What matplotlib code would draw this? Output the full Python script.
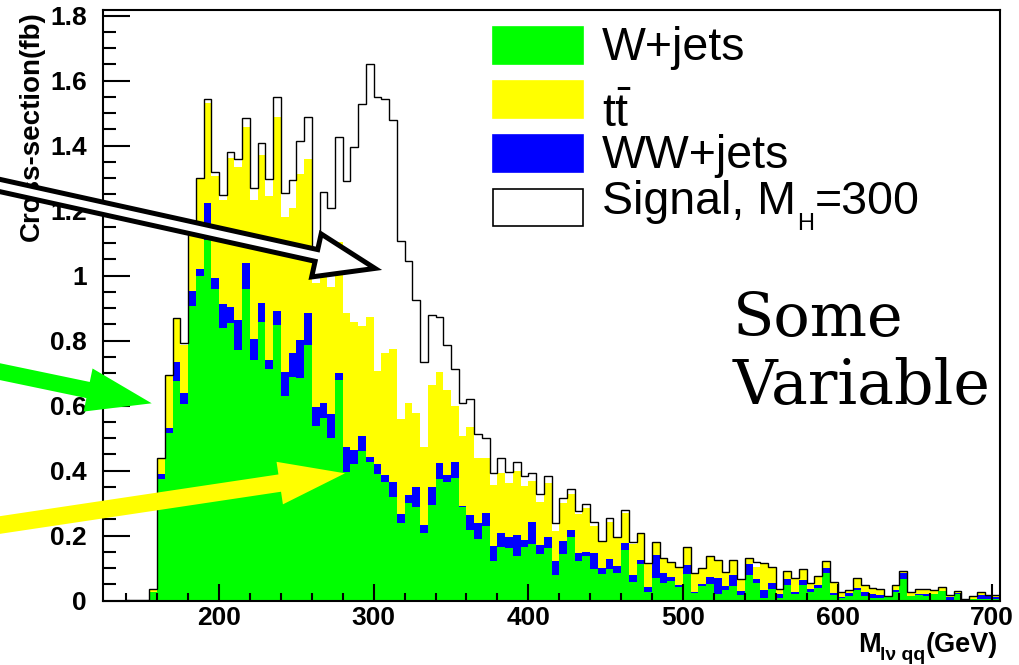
import numpy as np
import matplotlib
matplotlib.use("Agg")
import matplotlib.pyplot as plt
import matplotlib.transforms as mtransforms
from matplotlib.patches import FancyArrow, Rectangle
from matplotlib.ticker import MultipleLocator, FuncFormatter

plt.rcParams['font.family'] = ['Liberation Sans', 'DejaVu Sans']
plt.rcParams['font.weight'] = 'bold'
plt.rcParams['mathtext.fontset'] = 'custom'
plt.rcParams['mathtext.rm'] = 'Liberation Sans:weight=normal'
plt.rcParams['mathtext.it'] = 'Liberation Sans:style=italic:weight=normal'
plt.rcParams['mathtext.bf'] = 'Liberation Sans:weight=bold'

# ---------------- data (5 GeV bins starting at 125 GeV) ----------------
bin_low = 125
bin_width = 5
w_jets = [0, 0, 0, 0.003, 0.003, 0.003, 0.025,
          0.374, 0.516, 0.676, 0.605, 0.906, 1.000, 1.109, 0.958, 0.840, 0.853,
          0.771, 0.958, 0.740, 0.856, 0.712, 0.848, 0.630, 0.689, 0.686, 0.786,
          0.538, 0.561, 0.499, 0.678, 0.396, 0.420, 0.461, 0.427, 0.389, 0.364,
          0.319, 0.239, 0.301, 0.287, 0.207, 0.294, 0.374, 0.364, 0.376, 0.287,
          0.217, 0.189, 0.229, 0.123, 0.166, 0.162, 0.138, 0.166, 0.174, 0.143,
          0.161, 0.078, 0.143, 0.194, 0.123, 0.137, 0.096, 0.082, 0.096, 0.086,
          0.155, 0.056, 0.112, 0.027, 0.068, 0.053, 0.061, 0.041, 0.082, 0.022,
          0.045, 0.051, 0.020, 0.032, 0.045, 0.017, 0.078, 0.055, 0.009, 0.034,
          0.007, 0.048, 0.020, 0.048, 0.027, 0.040, 0.084, 0.017, 0.007, 0.014,
          0.032, 0.014, 0.007, 0.007, 0.014, 0.026, 0.066, 0.014, 0.018, 0.014,
          0.020, 0.030, 0.003, 0.020, 0.004, 0.004, 0.004, 0.004, 0.004]
ww_jets = [0, 0, 0, 0, 0, 0, 0,
           0.015, 0.015, 0.058, 0.033, 0.047, 0.020, 0.113, 0.033, 0.071, 0.051,
           0.092, 0.079, 0.064, 0.059, 0.028, 0.043, 0.074, 0.072, 0.116, 0.098,
           0.056, 0.046, 0.075, 0.021, 0.077, 0.043, 0.046, 0.016, 0.031, 0.022,
           0.047, 0.027, 0.024, 0.061, 0.025, 0.054, 0.048, 0.022, 0.051, 0.003,
           0.046, 0.051, 0.039, 0.045, 0.042, 0.032, 0.064, 0.020, 0.069, 0.028,
           0.033, 0.045, 0.041, 0.023, 0.022, 0.011, 0.051, 0.017, 0.031, 0.020,
           0.021, 0.022, 0.013, 0.016, 0.072, 0.033, 0.012, 0.007, 0.027, 0.005,
           0.006, 0.022, 0.050, 0.013, 0.033, 0.013, 0.034, 0.010, 0.023, 0.019,
           0.013, 0.017, 0.007, 0.015, 0.007, 0.008, 0.017, 0.005, 0.003, 0.008,
           0.007, 0.013, 0.013, 0.010, 0.000, 0.006, 0.020, 0.000, 0.002, 0.006,
           0.000, 0.000, 0.009, 0.002, 0.000, 0.000, 0.012, 0.012, 0.008]
ttbar = [0, 0, 0, 0, 0, 0, 0.010,
         0.045, 0.160, 0.134, 0.147, 0.172, 0.279, 0.308, 0.315, 0.321, 0.457,
         0.472, 0.421, 0.428, 0.456, 0.505, 0.598, 0.477, 0.446, 0.509, 0.476,
         0.383, 0.503, 0.392, 0.405, 0.411, 0.393, 0.339, 0.429, 0.287, 0.377,
         0.408, 0.291, 0.282, 0.228, 0.239, 0.315, 0.282, 0.262, 0.171, 0.216,
         0.272, 0.200, 0.169, 0.187, 0.183, 0.167, 0.196, 0.166, 0.125, 0.133,
         0.167, 0.092, 0.117, 0.111, 0.121, 0.136, 0.082, 0.082, 0.116, 0.088,
         0.094, 0.096, 0.082, 0.069, 0.036, 0.042, 0.041, 0.051, 0.055, 0.055,
         0.046, 0.062, 0.053, 0.041, 0.045, 0.035, 0.015, 0.037, 0.082, 0.048,
         0.014, 0.023, 0.040, 0.033, 0.019, 0.027, 0.018, 0.033, 0.014, 0.010,
         0.030, 0.020, 0.018, 0.017, 0.000, 0.015, 0.003, 0.012, 0.013, 0.013,
         0.012, 0.011, 0.004, 0.007, 0.000, 0.010, 0.010, 0.000, 0.004]
signal = [0, 0, 0, 0, 0, 0, 0,
          0.003, 0.004, 0.002, 0.006, 0.002, 0.002, 0.012, 0.013, 0.016, 0.020,
          0.022, 0.026, 0.036, 0.038, 0.051, 0.059, 0.072, 0.087, 0.104, 0.129,
          0.103, 0.148, 0.241, 0.321, 0.408, 0.538, 0.681, 0.779, 0.843, 0.779,
          0.703, 0.550, 0.439, 0.349, 0.262, 0.217, 0.169, 0.138, 0.114, 0.101,
          0.085, 0.072, 0.064, 0.038, 0.046, 0.035, 0.029, 0.032, 0.025, 0.024,
          0.022, 0.022, 0.015, 0.014, 0.010, 0.013, 0.012, 0.002, 0.010, 0.002,
          0.008, 0.005, 0.002, 0.002, 0.005, 0.002, 0.003, 0.003, 0.002, 0.002,
          0.002, 0.002, 0.002, 0.001, 0.002, 0.001, 0.004, 0.016, 0.002, 0.001,
          0.002, 0.002, 0.001, 0.001, 0.001, 0.001, 0.003, 0.001, 0.002, 0.001,
          0.001, 0.001, 0.001, 0.001, 0.001, 0.001, 0.002, 0.001, 0.001, 0.001,
          0.001, 0.001, 0.001, 0.001, 0.001, 0.001, 0.001, 0.001, 0.001]

legend_labels = ["W+jets", r"$\mathrm{t\bar{t}}$", "WW+jets", "Signal, M"]
colors = ["#00ff00", "#ffff00", "#0000ff", "white"]

# ---------------- figure ----------------
W, H = 1019, 665
fig = plt.figure(figsize=(W / 100, H / 100), dpi=100)
fig.patch.set_facecolor('white')
ax = fig.add_axes([103 / W, (H - 600.5) / H, (1000 - 103) / W, (600.5 - 10) / H])

edges = bin_low + bin_width * np.arange(len(w_jets) + 1)
c1 = np.array(w_jets)
c2 = c1 + np.array(ww_jets)
c3 = c2 + np.array(ttbar)
c4 = c3 + np.array(signal)

ax.stairs(c1, edges, baseline=0, fill=True, color=colors[0], lw=0, zorder=1)
ax.stairs(c2, edges, baseline=c1, fill=True, color=colors[2], lw=0, zorder=1)
ax.stairs(c3, edges, baseline=c2, fill=True, color=colors[1], lw=0, zorder=1)
ax.stairs(c4, edges, baseline=None, color='black', lw=1.0, zorder=2)

ax.set_xlim(125, 705)
ax.set_ylim(0, 1.817)

ax.xaxis.set_major_locator(MultipleLocator(100))
ax.xaxis.set_minor_locator(MultipleLocator(20))
ax.yaxis.set_major_locator(MultipleLocator(0.2))
ax.yaxis.set_minor_locator(MultipleLocator(0.05))
ax.xaxis.set_major_formatter(FuncFormatter(lambda v, p: f"{v:.0f}"))
ax.yaxis.set_major_formatter(FuncFormatter(lambda v, p: f"{round(v, 2):g}"))

ax.tick_params(which='both', direction='in', top=False, right=False, width=1.5,
               labelsize=19)
ax.tick_params(axis='x', which='major', length=12.2, pad=4)
ax.tick_params(axis='x', which='minor', length=6.1)
ax.tick_params(axis='y', which='major', length=19.4, pad=11.5)
ax.tick_params(axis='y', which='minor', length=9.7)
for s in ax.spines.values():
    s.set_linewidth(1.5)

# pixel coordinate transform (x to the right, y downward from top)
T = mtransforms.Affine2D().scale(1, -1).translate(0, H)

# y title
fig.text(32, 11, "Cross-section(fb)", rotation=90, ha='center', va='top',
         fontsize=20, fontweight='bold', transform=T)

# ---------------- legend ----------------
box_tops = [27, 81, 135, 189]
text_base = [60, 127, 168, 214]
for top, col in zip(box_tops, colors):
    fig.add_artist(Rectangle((493, top), 90, 37, transform=T, facecolor=col,
                             edgecolor='black' if col == 'white' else col,
                             lw=1.2, zorder=4))
txts = []
for lab, base in zip(legend_labels, text_base):
    txts.append(fig.text(602, base, lab, transform=T, fontsize=33.5,
                         fontweight='normal', va='baseline', ha='left', zorder=4))

fig.canvas.draw()
r = fig.canvas.get_renderer()
bb = txts[3].get_window_extent(r)
tH = fig.text(bb.x1 + 1, 230, "H", transform=T, fontsize=17, fontweight='normal',
              va='baseline', ha='left')
bbH = tH.get_window_extent(r)
fig.text(bbH.x1 + 1, 214, "=300", transform=T, fontsize=33.5, fontweight='normal',
         va='baseline', ha='left')

# Some Variable
fig.text(733, 336, "Some", transform=T, fontsize=43.5, family='DejaVu Serif',
         fontweight='normal', va='baseline', ha='left')
fig.text(733, 404, "Variable", transform=T, fontsize=44.5, family='DejaVu Serif',
         fontweight='normal', va='baseline', ha='left')

# ---------------- x title ----------------
tg = fig.text(998, 652, "(GeV)", transform=T, fontsize=19.5, fontweight='bold',
              va='baseline', ha='right')
bbg = tg.get_window_extent(r)
ts = fig.text(bbg.x0, 660, "lν qq", transform=T, fontsize=14, fontweight='bold',
              va='baseline', ha='right')
bbs = ts.get_window_extent(r)
fig.text(bbs.x0, 652, "M", transform=T, fontsize=19.5, fontweight='bold',
         va='baseline', ha='right')

# ---------------- arrows ----------------
fig.add_artist(FancyArrow(-20, 181.1, 395, 87.3, width=12, head_width=44,
                          head_length=60, length_includes_head=True,
                          facecolor='white', edgecolor='black', lw=3.6,
                          joinstyle='miter', transform=T, zorder=6))
fig.add_artist(FancyArrow(-20, 367.5, 171.7, 35.8, width=16.5, head_width=44,
                          head_length=65, length_includes_head=True,
                          facecolor='#00ff00', edgecolor='none', lw=0,
                          transform=T, zorder=6))
fig.add_artist(FancyArrow(-20, 528, 365, -54.7, width=17.5, head_width=43,
                          head_length=66, length_includes_head=True,
                          facecolor='#ffff00', edgecolor='none', lw=0,
                          transform=T, zorder=6))

fig.savefig("out.png", dpi=100, facecolor='white')
